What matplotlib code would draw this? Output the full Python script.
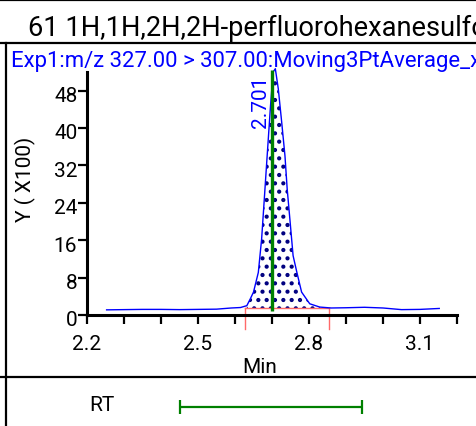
"""Chromatogram panel: 1H,1H,2H,2H-perfluorohexanesulfonate, m/z 327 > 307."""

import matplotlib.pyplot as plt
import matplotlib.transforms as mtransforms
import numpy as np
from matplotlib.lines import Line2D

plt.rcParams["font.family"] = ["Roboto", "DejaVu Sans"]
plt.rcParams["hatch.linewidth"] = 1.8

W, H = 476, 427

# retention time (min) and response (x100 counts)
times = [
    2.253, 2.30, 2.35, 2.40, 2.45, 2.50, 2.55, 2.59, 2.615, 2.632,
    2.641, 2.650, 2.663, 2.672, 2.678, 2.684, 2.690, 2.696, 2.703, 2.709,
    2.717, 2.726, 2.735, 2.741, 2.749, 2.757, 2.767, 2.780, 2.802, 2.829,
    2.86, 2.90, 2.95, 3.00, 3.05, 3.10, 3.152,
]
response = [
    1.1, 1.15, 1.2, 1.2, 1.15, 1.2, 1.25, 1.5, 1.6, 2.0,
    3.4, 4.9, 9.1, 16.3, 23.4, 30.6, 37.7, 44.8, 52.0, 52.7,
    48.4, 41.4, 34.1, 27.0, 19.9, 12.7, 9.2, 4.9, 2.4, 1.7,
    1.5, 1.55, 1.65, 1.5, 1.15, 1.2, 1.4,
]

peak_rt = 2.701
peak_top = 52.4
peak_foot = 0.9
integration_start = 2.627
integration_end = 2.854
integration_base = 1.44
rt_window_center = 2.697
rt_window_half = 0.246

title = "61 1H,1H,2H,2H-perfluorohexanesulfonate"
trace_label = "Exp1:m/z 327.00 > 307.00:Moving3PtAverage_x"
y_ticks = [0, 8, 16, 24, 32, 40, 48]
x_ticks = [2.2, 2.3, 2.4, 2.5, 2.6, 2.7, 2.8, 2.9, 3.0, 3.1, 3.2]
x_labels = ["2.2", "", "", "2.5", "", "", "2.8", "", "", "3.1", ""]


def fx(px):
    return px / W


def fy(py):
    return 1 - py / H


fig = plt.figure(figsize=(W / 100, H / 100), dpi=100)

# report frame
for y_px in (1, 44, 377.5):
    fig.add_artist(Line2D([0, 1], [fy(y_px), fy(y_px)], transform=fig.transFigure,
                          color="black", lw=1.6))
fig.add_artist(Line2D([fx(6), fx(6)], [fy(44), 0], transform=fig.transFigure,
                      color="black", lw=1.6))

fig.text(fx(28), fy(36.5), title, fontsize=19.6, va="baseline", ha="left")
fig.text(fx(11), fy(66.5), trace_label, fontsize=15.9, color="blue", va="baseline", ha="left")

ax = fig.add_axes([fx(87), fy(316), (457 - 87) / W, (316 - 73) / H])
ax.set_xlim(2.2, 3.2)
ax.set_ylim(0, 52)

t = np.array(times)
y = np.array(response)
ax.plot(t, y, color="blue", lw=1.0, clip_on=False, zorder=3)

mask = (t >= integration_start) & (t <= integration_end)
ax.fill_between(t[mask], y[mask], integration_base, facecolor="none",
                edgecolor="navy", hatch="..", linewidth=0, zorder=2)

ax.plot([integration_start, integration_end], [integration_base, integration_base],
        color="#ff6a6a", lw=1.0, zorder=2)
for x_int in (integration_start, integration_end):
    ax.plot([x_int, x_int], [integration_base, -3.0], color="#ff6a6a", lw=1.0,
            clip_on=False, zorder=2)

ax.vlines(peak_rt, peak_foot, peak_top, color="green", lw=2.4, zorder=4, clip_on=False)
ax.annotate(f"{peak_rt:.3f}", xy=(peak_rt, 51.5), xytext=(-1.5, 0), textcoords="offset points",
            rotation=90, ha="right", va="top", color="blue", fontsize=15)

ax.set_yticks(y_ticks)
ax.set_xticks(x_ticks)
ax.set_xticklabels(x_labels)
for side in ("top", "right"):
    ax.spines[side].set_visible(False)
for side in ("left", "bottom"):
    ax.spines[side].set_linewidth(2.2)
ax.tick_params(axis="both", direction="out", length=6.5, width=1.6, labelsize=15)
ax.tick_params(axis="y", pad=0.5)
ax.tick_params(axis="x", pad=7)
shift_down = mtransforms.ScaledTranslation(0, -2 / 72, fig.dpi_scale_trans)
for label in ax.get_yticklabels():
    label.set_transform(label.get_transform() + shift_down)

fig.text(fx(260), fy(373), "Min", fontsize=15, ha="center", va="baseline")
fig.text(fx(25), fy(179), "Y ( X100)", fontsize=15, rotation=90, ha="center", va="center")

# RT window panel
ax2 = fig.add_axes([fx(87), 0, (457 - 87) / W, (427 - 378) / H])
ax2.set_xlim(2.2, 3.2)
ax2.set_ylim(0, 1)
ax2.axis("off")
ax2.errorbar(rt_window_center, 0.394, xerr=rt_window_half, color="green", lw=1.6,
             capsize=4.7, capthick=1.6, fmt="none")
fig.text(fx(102), fy(411.5), "RT", fontsize=15, ha="center", va="baseline")

fig.savefig("out.png", dpi=100)
